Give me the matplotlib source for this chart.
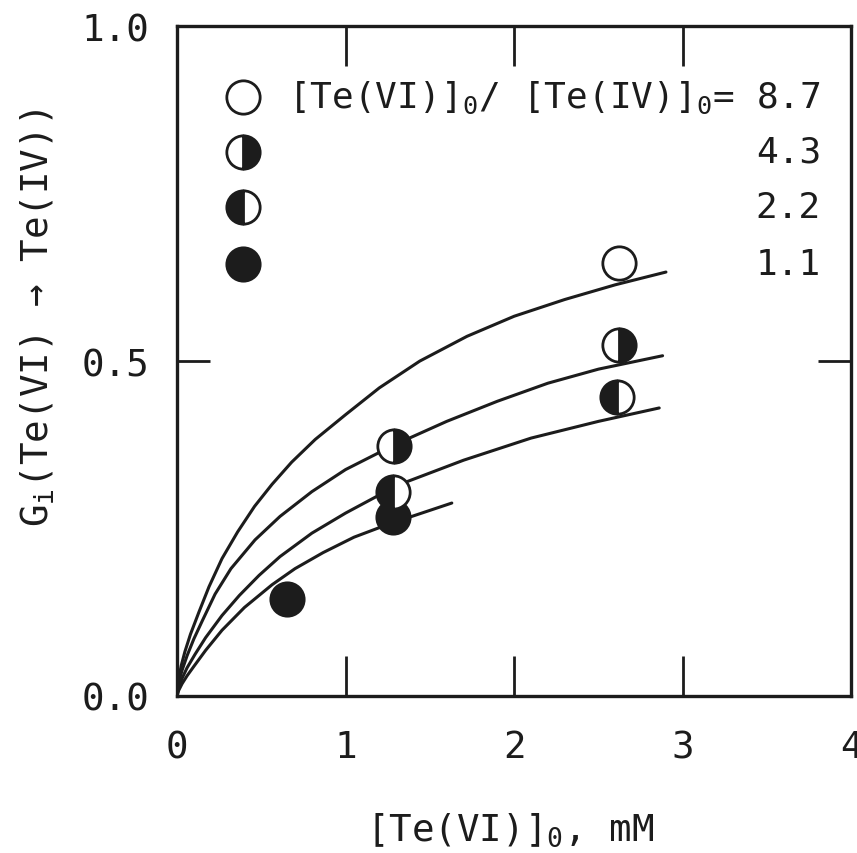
import matplotlib
matplotlib.use("Agg")
import matplotlib.pyplot as plt

plt.rcParams['font.family'] = ['DejaVu Sans Mono']
plt.rcParams['mathtext.default'] = 'regular'

ink = '#1c1c1c'

# ratios [Te(VI)]0/[Te(IV)]0
ratios = ['8.7', '4.3', '2.2', '1.1']
fills = ['none', 'right', 'left', 'full']

# measured points
pts_x = {
    '8.7': [2.62],
    '4.3': [1.29, 2.62],
    '2.2': [1.28, 2.61],
    '1.1': [0.65, 1.28],
}
pts_y = {
    '8.7': [0.646],
    '4.3': [0.373, 0.524],
    '2.2': [0.305, 0.447],
    '1.1': [0.145, 0.267],
}

# fitted curves
curve_x = {
    '8.7': [0, 0.01, 0.025, 0.047, 0.08, 0.13, 0.19, 0.267, 0.36, 0.46, 0.564,
            0.68, 0.82, 1.0, 1.2, 1.44, 1.72, 2.0, 2.3, 2.6, 2.9],
    '4.3': [0, 0.01, 0.03, 0.06, 0.1, 0.15, 0.226, 0.32, 0.463, 0.611, 0.8,
            1.0, 1.29, 1.6, 1.9, 2.2, 2.5, 2.88],
    '2.2': [0, 0.01, 0.03, 0.06, 0.107, 0.17, 0.267, 0.37, 0.487, 0.611, 0.8,
            1.0, 1.2, 1.365, 1.7, 2.1, 2.5, 2.86],
    '1.1': [0, 0.01, 0.03, 0.06, 0.1, 0.17, 0.267, 0.4, 0.564, 0.7, 0.867,
            1.05, 1.25, 1.44, 1.63],
}
curve_y = {
    '8.7': [0, 0.025, 0.045, 0.066, 0.092, 0.125, 0.163, 0.205, 0.245, 0.283,
            0.316, 0.349, 0.383, 0.42, 0.46, 0.5, 0.537, 0.567, 0.592, 0.614, 0.633],
    '4.3': [0, 0.02, 0.038, 0.06, 0.085, 0.112, 0.152, 0.19, 0.233, 0.268,
            0.305, 0.338, 0.375, 0.41, 0.44, 0.467, 0.488, 0.508],
    '2.2': [0, 0.012, 0.026, 0.042, 0.062, 0.087, 0.12, 0.15, 0.18, 0.208,
            0.243, 0.273, 0.3, 0.32, 0.352, 0.385, 0.41, 0.43],
    '1.1': [0, 0.008, 0.018, 0.03, 0.044, 0.068, 0.098, 0.132, 0.166, 0.19,
            0.214, 0.237, 0.256, 0.272, 0.288],
}

legend_y = [0.895, 0.813, 0.730, 0.645]

fig = plt.figure(figsize=(8.57, 8.54), dpi=100)
ax = fig.add_axes([0.2065, 0.184, 0.787, 0.784])

def marker_style(fs):
    if fs == 'none':
        return dict(marker='o', mfc='white', mec=ink, fillstyle='full')
    if fs == 'full':
        return dict(marker='o', mfc=ink, mec=ink, fillstyle='full')
    return dict(marker='o', mfc=ink, mec=ink, fillstyle=fs, markerfacecoloralt='white')

for r in ratios:
    ax.plot(curve_x[r], curve_y[r], color=ink, lw=2.2, zorder=2,
            solid_capstyle='round')

# 1.1 first so the 2.2 marker sits on top of it
for r, fs in reversed(list(zip(ratios, fills))):
    ax.plot(pts_x[r], pts_y[r], ls='none', ms=24, mew=2, zorder=3, **marker_style(fs))

# legend drawn inside the axes
for i, (r, fs) in enumerate(zip(ratios, fills)):
    ax.plot([0.39], [legend_y[i]], ls='none', ms=24, mew=2, zorder=3, **marker_style(fs))
    if i == 0:
        lab = r'[Te(VI)]$_{0}$/ [Te(IV)]$_{0}$= 8.7'
    else:
        lab = r
    ax.text(3.82, legend_y[i], lab, ha='right', va='center', fontsize=26, color=ink)

ax.set_xlim(0, 4)
ax.set_ylim(0, 1.0)
ax.set_xticks([0, 1, 2, 3, 4])
ax.set_xticklabels(['0', '1', '2', '3', '4'])
ax.set_yticks([0, 0.5, 1.0])
ax.set_yticklabels(['0.0', '0.5', '1.0'])

ax.tick_params(axis='x', direction='in', length=29, width=2, top=True,
               pad=24, labelsize=27, colors=ink)
ax.tick_params(axis='y', direction='in', length=24, width=2, right=True,
               pad=20, labelsize=27, colors=ink)
for s in ax.spines.values():
    s.set_linewidth(2.4)
    s.set_color(ink)

fig.text(0.595, 1 - 830 / 854, r'[Te(VI)]$_{0}$, mM', ha='center', va='center',
         fontsize=27, color=ink)
fig.text(38 / 857, 1 - 318 / 854, r'G$_{i}$(Te(VI) → Te(IV))', ha='center',
         va='center', rotation=90, fontsize=27, color=ink)

fig.savefig('out.png', dpi=100, facecolor='white')
plt.close(fig)
